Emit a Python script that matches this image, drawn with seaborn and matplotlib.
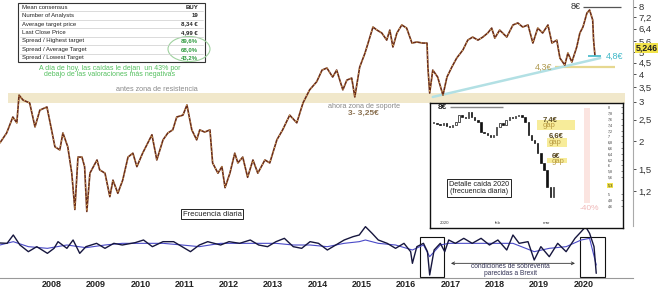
import matplotlib
matplotlib.use("Agg")
import matplotlib.pyplot as plt
from matplotlib.patches import Rectangle, Ellipse
from matplotlib.ticker import NullLocator
import seaborn as sns

sns.set_style("white")
plt.rcParams['font.family'] = ['Liberation Sans', 'DejaVu Sans']

# precio semanal aproximado (año decimal, euros)
price_year = [2006.83, 2006.98, 2007.12, 2007.21, 2007.26, 2007.35, 2007.50, 2007.62, 2007.73, 2007.89,
              2007.95, 2008.07, 2008.18, 2008.25, 2008.36, 2008.45, 2008.52, 2008.59, 2008.68, 2008.74,
              2008.79, 2008.86, 2009.02, 2009.08, 2009.20, 2009.31, 2009.38, 2009.49, 2009.60, 2009.72,
              2009.83, 2009.92, 2010.05, 2010.26, 2010.37, 2010.51, 2010.62, 2010.73, 2010.82, 2010.96,
              2011.05, 2011.16, 2011.27, 2011.34, 2011.45, 2011.57, 2011.63, 2011.75, 2011.84, 2011.91,
              2012.02, 2012.13, 2012.20, 2012.31, 2012.42, 2012.54, 2012.65, 2012.81, 2012.92, 2013.08,
              2013.21, 2013.37, 2013.53, 2013.67, 2013.82, 2013.98, 2014.10, 2014.21, 2014.34, 2014.43,
              2014.57, 2014.66, 2014.77, 2014.84, 2014.95, 2015.07, 2015.18, 2015.25, 2015.34, 2015.45,
              2015.56, 2015.63, 2015.70, 2015.79, 2015.90, 2016.01, 2016.13, 2016.24, 2016.37, 2016.47,
              2016.49, 2016.53, 2016.60, 2016.71, 2016.83, 2016.92, 2017.03, 2017.14, 2017.28, 2017.39,
              2017.50, 2017.62, 2017.73, 2017.84, 2017.93, 2018.00, 2018.11, 2018.27, 2018.41, 2018.52,
              2018.63, 2018.75, 2018.86, 2018.97, 2019.08, 2019.20, 2019.29, 2019.40, 2019.47, 2019.58,
              2019.65, 2019.74, 2019.85, 2019.92, 2019.99, 2020.08, 2020.14, 2020.21, 2020.23, 2020.26]
price_val = [1.97, 2.18, 2.57, 2.42, 3.22, 3.06, 2.97, 2.32, 2.76, 2.85,
             2.49, 1.89, 1.83, 2.18, 1.89, 1.44, 0.99, 1.70, 1.70, 1.54,
             0.97, 1.44, 1.65, 1.49, 1.44, 1.13, 1.34, 1.17, 1.34, 1.70,
             1.77, 1.54, 1.77, 2.14, 1.65, 2.03, 2.18, 2.25, 2.57, 2.62,
             2.91, 2.25, 2.03, 2.25, 2.20, 2.25, 1.60, 1.44, 1.54, 1.24,
             1.44, 1.77, 1.60, 1.70, 1.38, 1.65, 1.44, 1.65, 1.60, 2.03,
             2.25, 2.62, 2.42, 2.97, 3.40, 3.70, 4.17, 4.26, 3.88, 4.17,
             3.40, 3.76, 3.84, 3.16, 4.30, 4.97, 5.86, 6.50, 6.30, 6.11,
             5.68, 6.30, 5.29, 6.11, 6.64, 6.43, 5.51, 5.57, 5.51, 5.51,
             4.30, 3.29, 4.17, 3.88, 3.22, 3.88, 4.30, 4.72, 5.13, 5.68,
             5.86, 5.68, 5.86, 6.11, 6.43, 5.80, 6.30, 5.86, 6.64, 6.78,
             6.50, 6.64, 5.51, 6.43, 6.11, 6.64, 5.51, 5.68, 4.72, 4.39,
             4.97, 4.53, 5.29, 6.11, 6.50, 7.51, 7.75, 6.99, 5.68, 4.87]
last_close = 5.246

# oscilador (dos lineas)
osc_year = [2006.83, 2006.99, 2007.13, 2007.28, 2007.47, 2007.66, 2007.90, 2008.05, 2008.14, 2008.34,
            2008.48, 2008.63, 2008.77, 2009.01, 2009.20, 2009.40, 2009.59, 2009.88, 2010.07, 2010.27,
            2010.51, 2010.75, 2010.94, 2011.13, 2011.33, 2011.52, 2011.81, 2012.00, 2012.24, 2012.48,
            2012.67, 2012.87, 2013.06, 2013.25, 2013.45, 2013.64, 2013.83, 2014.02, 2014.22, 2014.41,
            2014.60, 2014.80, 2014.94, 2015.08, 2015.23, 2015.37, 2015.57, 2015.76, 2015.95, 2016.10,
            2016.14, 2016.24, 2016.39, 2016.48, 2016.53, 2016.63, 2016.77, 2016.87, 2016.96, 2017.11,
            2017.30, 2017.49, 2017.69, 2017.88, 2018.07, 2018.27, 2018.41, 2018.55, 2018.75, 2018.89,
            2019.04, 2019.23, 2019.42, 2019.61, 2019.81, 2019.95, 2020.05, 2020.14, 2020.24, 2020.29]
osc_dark = [6, 5, 30, 0, -20, -5, -25, -10, 10, -10,
            15, -25, -5, 5, -10, 5, 0, 7, 15, -5,
            10, 10, -5, -20, 0, 10, 0, 10, 5, 15,
            0, -5, 10, 20, -5, -10, 10, 5, -15, 0,
            15, 25, 30, 55, 35, 15, 5, -10, 5, -20,
            -55, -5, 5, -20, -90, -15, 5, -20, 15, 5,
            20, 5, 20, 0, 15, -15, 30, 5, 10, -45,
            -5, -35, 5, -20, 20, 40, 55, 35, -5, -85]
osc_blue_year = [2006.83, 2007.13, 2007.47, 2007.90, 2008.34, 2008.77, 2009.20, 2009.59, 2010.07, 2010.51,
                 2010.94, 2011.33, 2011.81, 2012.24, 2012.67, 2013.06, 2013.45, 2013.83, 2014.22, 2014.60,
                 2014.94, 2015.08, 2015.37, 2015.76, 2016.14, 2016.39, 2016.53, 2016.77, 2016.96, 2017.30,
                 2017.69, 2018.07, 2018.41, 2018.89, 2019.23, 2019.61, 2019.95, 2020.14, 2020.29]
osc_blue = [0, 10, -5, -10, 0, -8, 0, 5, 5, 5,
            0, -5, 5, 5, 5, 5, 0, 0, -5, 5,
            10, 15, 5, 0, -15, 0, -35, 0, 5, 5,
            5, 5, 5, -20, -10, -5, 15, 20, -60]

# detalle caida 2020 (cierres diarios)
inset_close = [7.45, 7.43, 7.39, 7.45, 7.36, 7.31, 7.39, 7.51, 7.74, 7.68,
               7.62, 7.85, 7.68, 7.56, 7.51, 7.16, 7.10, 7.05, 6.99, 7.05,
               7.33, 7.45, 7.39, 7.56, 7.68, 7.62, 7.70, 7.74, 7.68, 7.51,
               7.05, 6.87, 6.76, 6.41, 6.07, 5.84, 5.26, 4.92, 5.26]

price_ticks = [8, 7.2, 6.4, 5.6, 5, 4.5, 4, 3.5, 3, 2.5, 2, 1.5, 1.2]
year_ticks = list(range(2008, 2021))
inset_ticks = [4.6, 4.8, 5.0, 5.6, 5.8, 6.0, 6.2, 6.4, 6.6, 6.8, 7.0, 7.2, 7.4, 7.6, 7.8, 8.0]
inset_last = 5.3

table_labels = ["Mean consensus", "Number of Analysts", "Average target price", "Last Close Price",
                "Spread / Highest target", "Spread / Average Target", "Spread / Lowest Target"]
table_values = ["BUY", "19", "8,34 €", "4,99 €", "89,6%", "68,0%", "43,2%"]


def fmt(v):
    return ("%g" % v).replace(".", ",")


W, H = 663, 290
fig = plt.figure(figsize=(W / 100, H / 100), dpi=100)

# ---------------- precio ----------------
ax = fig.add_axes([0, 1 - 226 / H, 633 / W, 226 / H])
sns.lineplot(x=price_year, y=price_val, ax=ax, color="#6a2c18", lw=1.2, estimator=None, sort=False)
sns.lineplot(x=price_year, y=price_val, ax=ax, color="#e0b060", lw=0.8, estimator=None, sort=False,
             linestyle=(0, (1, 3)))
ax.set_yscale("log")
ax.set_xlim(2006.83, 2021.12)
ax.set_ylim(0.835, 8.59)
ax.yaxis.tick_right()
ax.yaxis.set_minor_locator(NullLocator())
ax.set_yticks(price_ticks)
ax.set_yticklabels([fmt(v) for v in price_ticks])
ax.tick_params(axis="y", labelsize=6.8, colors="#333333", length=2, width=0.6, pad=2)
ax.set_xticks([])
ax.set_xlabel("")
ax.set_ylabel("")
for s in ["top", "left", "bottom"]:
    ax.spines[s].set_visible(False)
ax.spines["right"].set_color("#aaaaaa")
ax.spines["right"].set_linewidth(0.8)
ax.patch.set_alpha(0)

# zona resistencia / soporte
ax.axhspan(2.96, 3.28, xmin=(2007.0 - 2006.83) / 14.29, xmax=(2020.94 - 2006.83) / 14.29,
           color="#efe5c2", alpha=0.85, zorder=0, lw=0)
ax.text(2010.37, 3.43, "antes zona de resistencia", fontsize=5.2, color="#8a8a8a", ha="center", va="center")
ax.text(2015.04, 2.85, "ahora zona de soporte", fontsize=5.2, color="#8a8a8a", ha="center", va="center")
ax.text(2015.04, 2.66, "3- 3,25€", fontsize=6, color="#8a7050", ha="center", va="center", fontweight="bold")

# niveles
ax.hlines(8.0, 2019.99, 2020.85, color="#555555", lw=0.9)
ax.text(2019.93, 8.0, "8€", fontsize=6.5, color="#333333", ha="right", va="center")
ax.hlines(4.3, 2019.36, 2020.71, color="#e6d890", lw=1.6, zorder=1)
ax.text(2019.30, 4.3, "4,3€", fontsize=6.5, color="#b09a50", ha="right", va="center")
ax.plot([2016.6, 2020.38], [3.16, 4.72], color="#b2e0e4", lw=1.8, zorder=1)
ax.hlines(4.8, 2020.10, 2020.40, color="#40b8c8", lw=1.2)
ax.text(2020.50, 4.8, "4,8€", fontsize=6.5, color="#40b8c8", ha="left", va="center")
ax.text(1.004, last_close, "5,246", transform=ax.get_yaxis_transform(), fontsize=6.4, fontweight="bold",
        color="#222222", ha="left", va="center", zorder=10,
        bbox=dict(boxstyle="square,pad=0.05", fc="#f2e34a", ec="none"))

# ---------------- oscilador ----------------
osc = fig.add_axes([0, 1 - 278 / H, 633 / W, 52 / H])
sns.lineplot(x=osc_blue_year, y=osc_blue, ax=osc, color="#4a4ac8", lw=0.8, estimator=None, sort=False)
sns.lineplot(x=osc_year, y=osc_dark, ax=osc, color="#16163e", lw=1.0, estimator=None, sort=False)
osc.set_xlim(2006.83, 2021.12)
osc.set_ylim(-99, 57)
osc.set_yticks([])
osc.set_xticks(year_ticks)
osc.set_xticklabels([str(y) for y in year_ticks], fontweight="bold")
osc.tick_params(axis="x", labelsize=6.5, colors="#222222", length=0, pad=1.5)
osc.set_xlabel("")
osc.set_ylabel("")
for s in ["top", "left", "right"]:
    osc.spines[s].set_visible(False)
osc.spines["bottom"].set_color("#999999")
osc.spines["bottom"].set_linewidth(0.8)
osc.patch.set_alpha(0)
osc.add_patch(Rectangle((2016.31, -95), 0.54, 118, fill=False, ec="#111111", lw=0.8))
osc.add_patch(Rectangle((2019.93, -95), 0.55, 118, fill=False, ec="#111111", lw=0.8))
osc.annotate("", xy=(2017.01, -55), xytext=(2019.81, -55),
             arrowprops=dict(arrowstyle="<->", lw=0.6, color="#333333", shrinkA=0, shrinkB=0,
                             mutation_scale=5))
osc.text(2018.36, -76, "condiciones de sobreventa\nparecidas a Brexit", fontsize=4.8,
         color="#333355", ha="center", va="center", linespacing=0.95)

# ---------------- detalle 2020 ----------------
ins = fig.add_axes([430 / W, 1 - 228 / H, 193 / W, 125 / H])
ins.set_facecolor("white")
days = list(range(len(inset_close)))
opens = [inset_close[0]] + inset_close[:-1]
for d, o, c in zip(days, opens, inset_close):
    lo, hi = min(o, c), max(o, c)
    hgt = max(hi - lo, 0.03)
    up = c >= o
    ins.bar(d, hgt, bottom=lo, width=0.45, color="white" if up else "#111111", ec="#111111", lw=0.5)
ins.set_xlim(-1.2, 60.1)
ins.set_ylim(3.84, 8.15)
ins.set_xticks([])
ins.yaxis.tick_right()
ins.set_yticks(inset_ticks)
ins.set_yticklabels([fmt(round(v, 1)) for v in inset_ticks])
ins.tick_params(axis="y", labelsize=2.6, length=1.2, width=0.4, direction="in", pad=-11, colors="#333333")
for s in ins.spines.values():
    s.set_color("#111111")
    s.set_linewidth(1.0)
ins.hlines(8.0, 5.1, 22.1, color="#888888", lw=1.0)
ins.text(1.2, 8.0, "8€", fontsize=6, color="#222222", fontweight="bold", va="center", ha="left")
ins.add_patch(Rectangle((32.7, 7.22), 12.2, 0.34, color="#f7ec9a", lw=0, zorder=0))
ins.add_patch(Rectangle((35.9, 6.64), 6.4, 0.29, color="#f7ec9a", lw=0, zorder=0))
ins.add_patch(Rectangle((35.9, 6.07), 6.4, 0.17, color="#f7ec9a", lw=0, zorder=0))
ins.add_patch(Rectangle((47.6, 4.69), 2.1, 3.28, color="#fbe4e0", lw=0, zorder=0))
ins.text(34.6, 7.55, "7,4€", fontsize=5.5, color="#5a4a20", fontweight="bold", va="center")
ins.text(34.6, 7.36, "gap", fontsize=5.5, color="#b89a40", va="center")
ins.text(36.4, 7.00, "6,6€", fontsize=5.5, color="#5a4a20", fontweight="bold", va="center")
ins.text(36.4, 6.78, "gap", fontsize=5.5, color="#b89a40", va="center")
ins.text(37.5, 6.32, "6€", fontsize=5.5, color="#5a4a20", fontweight="bold", va="center")
ins.text(37.5, 6.12, "gap", fontsize=5.5, color="#b89a40", va="center")
ins.text(49.5, 4.50, "-40%", fontsize=6, color="#f0b8b8", ha="center", va="center")
ins.text(14.4, 5.21, "Detalle caída 2020\n(frecuencia diaria)", fontsize=5.2, color="#222222",
         ha="center", va="center", linespacing=1.0,
         bbox=dict(boxstyle="square,pad=0.3", fc="white", ec="#222222", lw=0.7))
for lx, lt in zip([3.5, 20.5, 35.9], ["2020", "feb", "mar"]):
    ins.text(lx, 4.02, lt, fontsize=3.2, color="#444444", ha="center", va="center")
ins.text(55.2, inset_last, fmt(inset_last), fontsize=2.8, ha="left", va="center", color="#222222",
         zorder=10, bbox=dict(boxstyle="square,pad=0.1", fc="#f2e34a", ec="none"))

# ---------------- tabla de consenso (coordenadas en pixeles) ----------------
ov = fig.add_axes([0, 0, 1, 1], zorder=6)
ov.set_xlim(0, W)
ov.set_ylim(H, 0)
ov.axis("off")
ov.patch.set_alpha(0)
ov.add_patch(Rectangle((18, 3), 187, 59, fill=True, fc="white", ec="#333333", lw=0.8))
row_h = 59 / len(table_labels)
for i, (lab, val) in enumerate(zip(table_labels, table_values)):
    yc = 3 + row_h * (i + 0.5)
    ov.text(22, yc, lab, fontsize=4.3, color="#222222", va="center", ha="left")
    ov.text(198, yc, val, fontsize=4.3, va="center", ha="right", fontweight="bold",
            color="#2e9a3e" if i >= 4 else "#222222")
    if i > 0:
        ov.plot([20, 203], [3 + row_h * i] * 2, color="#cccccc", lw=0.5)
ov.add_patch(Ellipse((189, 49), 42, 25, fill=False, ec="#9fd29f", lw=0.8))
ov.text(110, 68, "A día de hoy, las caídas le dejan  un 43% por", fontsize=5, color="#55c060",
        ha="center", va="center")
ov.text(110, 75, "debajo de las valoraciones más negativas", fontsize=5, color="#55c060",
        ha="center", va="center")
ov.text(212, 214, "Frecuencia diaria", fontsize=5.5, color="#222222", ha="center", va="center",
        bbox=dict(boxstyle="square,pad=0.25", fc="white", ec="#222222", lw=0.7))

fig.savefig("out.png", dpi=100)
